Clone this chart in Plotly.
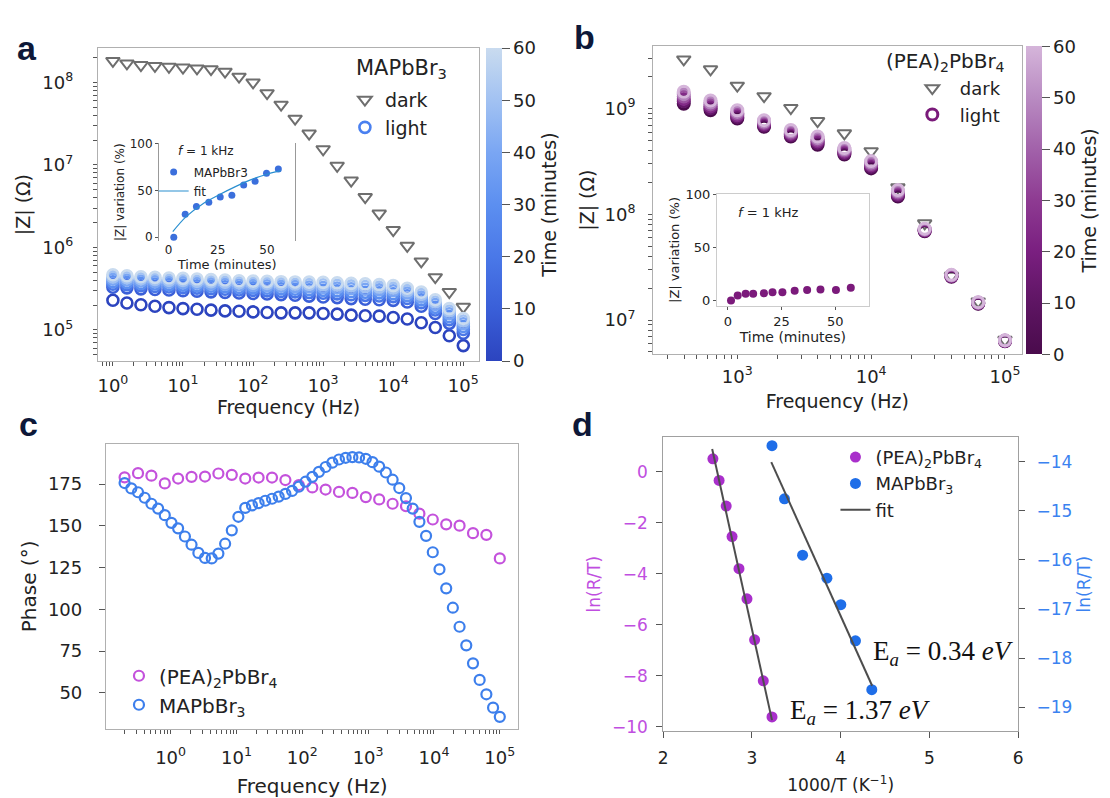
import plotly.graph_objects as go

W, H = 1110, 798


def fx(p):
    return p / W


def fy(p):
    return 1 - p / H


# ---------------- Panel a : MAPbBr3 |Z| vs frequency ----------------
freq_a = [1, 1.585, 2.512, 3.981, 6.31, 10, 15.85, 25.12, 39.81, 63.1, 100, 158.5, 251.2,
          398.1, 631, 1000, 1585, 2512, 3981, 6310, 10000, 15850, 25120, 39810, 63100, 100000]
logZ_dark_a = [8.26, 8.23, 8.21, 8.20, 8.19, 8.18, 8.17, 8.16, 8.13, 8.07, 8.00, 7.87, 7.73,
               7.56, 7.38, 7.19, 6.99, 6.81, 6.61, 6.41, 6.21, 6.02, 5.83, 5.64, 5.46, 5.28]
light_times_a = [0, 10, 20, 30, 40, 50, 60]
logZ_light_a_t0 = [5.36, 5.327, 5.306, 5.287, 5.271, 5.259, 5.251, 5.24, 5.231, 5.227, 5.219, 5.211, 5.207,
                   5.207, 5.207, 5.199, 5.192, 5.18, 5.172, 5.168, 5.151, 5.132, 5.088, 5.029, 4.93, 4.81]
logZ_light_a_t10 = [5.517, 5.51, 5.498, 5.49, 5.484, 5.476, 5.47, 5.462, 5.455, 5.448, 5.442, 5.436, 5.428,
                    5.42, 5.41, 5.40, 5.392, 5.38, 5.372, 5.366, 5.359, 5.339, 5.287, 5.199, 5.08, 4.96]
logZ_light_a_t20 = [5.555, 5.547, 5.535, 5.527, 5.52, 5.513, 5.507, 5.499, 5.493, 5.485, 5.48, 5.474, 5.467,
                    5.461, 5.453, 5.444, 5.437, 5.426, 5.419, 5.412, 5.404, 5.381, 5.33, 5.241, 5.125, 5.005]
logZ_light_a_t30 = [5.585, 5.576, 5.564, 5.556, 5.549, 5.543, 5.536, 5.529, 5.523, 5.515, 5.51, 5.505, 5.499,
                    5.493, 5.487, 5.48, 5.473, 5.463, 5.456, 5.449, 5.439, 5.414, 5.364, 5.274, 5.161, 5.041]
logZ_light_a_t40 = [5.616, 5.606, 5.594, 5.586, 5.578, 5.573, 5.566, 5.558, 5.553, 5.545, 5.54, 5.535, 5.53,
                    5.525, 5.521, 5.515, 5.508, 5.5, 5.493, 5.486, 5.475, 5.447, 5.398, 5.308, 5.196, 5.076]
logZ_light_a_t50 = [5.643, 5.632, 5.62, 5.612, 5.604, 5.6, 5.592, 5.585, 5.58, 5.572, 5.567, 5.563, 5.558,
                    5.554, 5.551, 5.547, 5.541, 5.534, 5.526, 5.519, 5.507, 5.477, 5.429, 5.338, 5.229, 5.109]
logZ_light_a_t60 = [5.669, 5.657, 5.645, 5.637, 5.629, 5.625, 5.617, 5.61, 5.605, 5.597, 5.592, 5.589, 5.585,
                    5.582, 5.58, 5.577, 5.571, 5.565, 5.558, 5.55, 5.537, 5.505, 5.458, 5.366, 5.259, 5.139]
logZ_light_a = [logZ_light_a_t0, logZ_light_a_t10, logZ_light_a_t20, logZ_light_a_t30,
                logZ_light_a_t40, logZ_light_a_t50, logZ_light_a_t60]

# inset a : |Z| variation at 1 kHz
inset_a_time = [2.7, 8.5, 14.2, 20.5, 26.3, 32.2, 38.2, 44.0, 49.8, 55.8]
inset_a_var = [0, 24.5, 32.9, 37.4, 43.0, 44.8, 55.6, 59.8, 68.2, 72.7]
inset_a_fit_time = [2.2, 9, 17, 25.5, 34, 42, 50.5, 57]
inset_a_fit_var = [6, 22, 35, 45, 54, 61.5, 67.5, 71]

# ---------------- Panel b : (PEA)2PbBr4 ----------------
freq_b = [398.1, 631, 1000, 1585, 2512, 3981, 6310, 10000, 15850, 25120, 39810, 63100, 100000]
logZ_dark_b = [9.465, 9.372, 9.217, 9.118, 9.006, 8.882, 8.767, 8.597, 8.256, 7.915, 7.419, 7.177, 6.814]
light_times_b = [0, 12, 24, 36, 48, 60]
logZ_light_b_t0 = [9.046, 8.984, 8.907, 8.829, 8.736, 8.659, 8.566, 8.435, 8.168, 7.84, 7.41, 7.155, 6.80]
logZ_light_b_t12 = [9.069, 9.003, 8.922, 8.841, 8.748, 8.674, 8.578, 8.449, 8.181, 7.845, 7.414, 7.158, 6.802]
logZ_light_b_t24 = [9.092, 9.021, 8.938, 8.854, 8.761, 8.69, 8.591, 8.463, 8.193, 7.85, 7.417, 7.161, 6.804]
logZ_light_b_t36 = [9.114, 9.04, 8.953, 8.866, 8.773, 8.705, 8.603, 8.476, 8.206, 7.855, 7.421, 7.164, 6.806]
logZ_light_b_t48 = [9.137, 9.058, 8.969, 8.879, 8.786, 8.721, 8.616, 8.49, 8.218, 7.86, 7.424, 7.167, 6.808]
logZ_light_b_t60 = [9.16, 9.077, 8.984, 8.891, 8.798, 8.736, 8.628, 8.504, 8.231, 7.865, 7.428, 7.17, 6.81]
logZ_light_b = [logZ_light_b_t0, logZ_light_b_t12, logZ_light_b_t24,
                logZ_light_b_t36, logZ_light_b_t48, logZ_light_b_t60]

inset_b_time = [1.5, 4.6, 8.3, 11.8, 16.8, 20.8, 25.4, 31.1, 36.9, 43.1, 50.3, 57.2]
inset_b_var = [0, 4.6, 6.2, 6.2, 6.8, 7.7, 7.7, 9.2, 9.8, 10.2, 9.8, 12.0]

# ---------------- Panel c : phase ----------------
freq_c_pea = [0.2, 0.32, 0.511, 0.816, 1.30, 2.08, 3.33, 5.32, 8.50, 13.6, 21.7, 34.7, 55.4, 88.5,
              142, 226, 361, 577, 922, 1472, 2355, 3758, 6012, 9594, 15350, 24490, 39170, 62520, 100000]
phase_pea = [179.0, 181.5, 180.0, 175.4, 178.3, 179.3, 179.5, 181.3, 180.5, 178.3, 178.9, 178.9, 177.4, 174.4,
             173.0, 171.7, 170.3, 169.7, 167.2, 165.8, 163.2, 161.7, 157.3, 153.8, 150.9, 150.1, 145.6, 144.6, 130.5]
freq_c_ma = [0.2, 0.253, 0.32, 0.404, 0.511, 0.646, 0.816, 1.03, 1.30, 1.65, 2.08, 2.64, 3.33, 4.21, 5.32,
             6.73, 8.50, 10.7, 13.6, 17.2, 21.7, 27.4, 34.7, 43.8, 55.4, 70.0, 88.5, 112, 142, 179, 226, 286,
             361, 456, 577, 729, 922, 1165, 1472, 1862, 2355, 2972, 3758, 4753, 6012, 7586, 9594, 12130,
             15350, 19360, 24490, 30970, 39170, 49430, 62520, 79070, 100000]
phase_ma = [175.6, 172.4, 170.1, 166.8, 163.2, 160.3, 156.4, 151.8, 148.5, 143.6, 138.7, 133.8, 130.8, 130.5,
            133.4, 139.3, 147.3, 155.4, 160.7, 162.2, 163.6, 165.0, 166.2, 167.5, 169.1, 170.9, 173.4, 176.4,
            179.3, 182.3, 185.2, 187.8, 189.7, 190.7, 191.1, 190.9, 190.1, 188.1, 185.4, 181.9, 177.6, 172.6,
            166.6, 160.3, 152.4, 144.0, 134.2, 124.0, 112.6, 101.0, 89.6, 78.5, 67.7, 57.8, 49.2, 41.2, 35.7]

# ---------------- Panel d : Arrhenius ----------------
invT_pea = [2.56, 2.63, 2.71, 2.776, 2.854, 2.944, 3.03, 3.128, 3.226]
lnRT_pea = [0.515, -0.335, -1.338, -2.535, -3.797, -4.981, -6.589, -8.198, -9.614]
invT_ma = [3.226, 3.367, 3.571, 3.845, 4.002, 4.167, 4.351]
lnRT_ma = [-13.672, -14.755, -15.905, -16.373, -16.914, -17.65, -18.646]
fit_pea_x = [2.552, 3.226]
fit_pea_y = [0.90, -9.74]
fit_ma_x = [3.218, 4.355]
fit_ma_y = [-14.007, -18.565]

# ---------------- styles ----------------
FONT = "DejaVu Sans"
TXT = "#222222"
GRAY = "#6e6e6e"
BLUES = [[0, "#2c44bf"], [0.1667, "#3a5fd8"], [0.333, "#4a78e8"], [0.5, "#5c8ff0"],
         [0.667, "#7aa6f3"], [0.833, "#a2c2f2"], [1, "#c9dbef"]]
PURPLES = [[0, "#4a0b4c"], [0.1667, "#5e1563"], [0.333, "#7a1f80"], [0.5, "#8e3b92"],
           [0.667, "#a262aa"], [0.833, "#b98bc2"], [1, "#d5b5da"]]
PINK_C = "#c452dc"
BLUE_C = "#3d7fec"
MAG_D = "#a92fcb"
BLUE_D = "#1f6ee8"
MAG_TXT = "#c04ee0"
BLUE_TXT = "#3b82f0"


def log_ticks(major_exps, lo, hi):
    """Major decade ticks with 10^n labels plus unlabeled minor ticks (2..9 x 10^n)."""
    vals, text = [], []
    for e in major_exps:
        vals.append(10 ** e)
        text.append("10<sup>%d</sup>" % e)
    for e in range(lo, hi + 1):
        for m in range(2, 10):
            vals.append(m * 10 ** e)
            text.append("")
    return dict(tickmode="array", tickvals=vals, ticktext=text)


def ax(**kw):
    base = dict(showline=True, mirror=True, linecolor="#b0b0b0", linewidth=1, ticks="outside",
                tickcolor="#555555", ticklen=6, tickwidth=1, showgrid=False, zeroline=False,
                tickfont=dict(size=18, color=TXT, family=FONT), title_font=dict(size=19, color=TXT, family=FONT))
    base.update(kw)
    return base


def major_overlay(base, anchor, rng, exps, side):
    # tick-only overlay axis that lengthens the decade ticks
    return dict(type="log", overlaying=base, anchor=anchor, side=side, range=rng, autorange=False,
                tickmode="array", tickvals=[10 ** e for e in exps], showticklabels=False,
                ticks="outside", ticklen=7, tickwidth=1, tickcolor="#555555",
                showline=False, showgrid=False, zeroline=False)


def cbar(x0, top, bottom):
    return dict(x=fx(x0), xanchor="left", y=fy(top), yanchor="top",
                len=(bottom - top) / H, lenmode="fraction", thickness=16,
                thicknessmode="pixels", xpad=0, ypad=0, outlinewidth=0,
                tickvals=[0, 10, 20, 30, 40, 50, 60], ticks="outside", ticklen=8,
                tickcolor="#555555", tickfont=dict(size=18, color=TXT, family=FONT),
                title=dict(text="Time (minutes)", side="right",
                           font=dict(size=19, color=TXT, family=FONT)))


fig = go.Figure()

# ---- panel a traces ----
fig.add_trace(go.Scatter(
    x=freq_a, y=[10 ** v for v in logZ_dark_a], mode="markers", name="dark",
    marker=dict(symbol="triangle-down-open", size=12, color=GRAY, line=dict(width=2)),
    xaxis="x", yaxis="y", legend="legend"))
for i, (t, series) in enumerate(zip(light_times_a, logZ_light_a)):
    fig.add_trace(go.Scatter(
        x=freq_a, y=[10 ** v for v in series], mode="markers", showlegend=False,
        marker=dict(symbol="circle-open", size=11, color=[t] * len(series), colorscale=BLUES,
                    cmin=0, cmax=60, line=dict(width=2.6), showscale=(i == 0),
                    colorbar=cbar(485, 41.7, 360)),
        xaxis="x", yaxis="y"))
fig.add_trace(go.Scatter(
    x=[None], y=[None], mode="markers", name="light",
    marker=dict(symbol="circle-open", size=11, color="#4a80f0", line=dict(width=2.6)),
    xaxis="x", yaxis="y", legend="legend"))

# inset a
fig.add_trace(go.Scatter(
    x=inset_a_time, y=inset_a_var, mode="markers", name="MAPbBr3",
    marker=dict(symbol="circle", size=7, color="#3b6fdc"),
    xaxis="x2", yaxis="y2", legend="legend2"))
fig.add_trace(go.Scatter(
    x=inset_a_fit_time, y=inset_a_fit_var, mode="lines", name="fit", line_shape="spline",
    line=dict(color="#2a8fd0", width=1.2), xaxis="x2", yaxis="y2", legend="legend2"))

# ---- panel b traces ----
fig.add_trace(go.Scatter(
    x=freq_b, y=[10 ** v for v in logZ_dark_b], mode="markers", name="dark",
    marker=dict(symbol="triangle-down-open", size=12, color=GRAY, line=dict(width=2)),
    xaxis="x3", yaxis="y3", legend="legend3"))
for i, (t, series) in enumerate(zip(light_times_b, logZ_light_b)):
    fig.add_trace(go.Scatter(
        x=freq_b, y=[10 ** v for v in series], mode="markers", showlegend=False,
        marker=dict(symbol="circle-open", size=11, color=[t] * len(series), colorscale=PURPLES,
                    cmin=0, cmax=60, line=dict(width=3), showscale=(i == 0),
                    colorbar=cbar(1030, 40, 353)),
        xaxis="x3", yaxis="y3"))
fig.add_trace(go.Scatter(
    x=[None], y=[None], mode="markers", name="light",
    marker=dict(symbol="circle-open", size=11, color="#7a1a7a", line=dict(width=3)),
    xaxis="x3", yaxis="y3", legend="legend3"))

# inset b
fig.add_trace(go.Scatter(
    x=inset_b_time, y=inset_b_var, mode="markers", showlegend=False,
    marker=dict(symbol="circle", size=8, color="#7b1a7b"), xaxis="x4", yaxis="y4"))

# ---- panel c traces ----
fig.add_trace(go.Scatter(
    x=freq_c_pea, y=phase_pea, mode="markers", name="(PEA)<sub>2</sub>PbBr<sub>4</sub>",
    marker=dict(symbol="circle-open", size=10, color=PINK_C, line=dict(width=2.2)),
    xaxis="x5", yaxis="y5", legend="legend4"))
fig.add_trace(go.Scatter(
    x=freq_c_ma, y=phase_ma, mode="markers", name="MAPbBr<sub>3</sub>",
    marker=dict(symbol="circle-open", size=10, color=BLUE_C, line=dict(width=2.2)),
    xaxis="x5", yaxis="y5", legend="legend4"))

# ---- panel d traces ----
fig.add_trace(go.Scatter(
    x=invT_pea, y=lnRT_pea, mode="markers", name="(PEA)<sub>2</sub>PbBr<sub>4</sub>",
    marker=dict(symbol="circle", size=11, color=MAG_D), xaxis="x6", yaxis="y6", legend="legend5"))
fig.add_trace(go.Scatter(
    x=invT_ma, y=lnRT_ma, mode="markers", name="MAPbBr<sub>3</sub>",
    marker=dict(symbol="circle", size=11, color=BLUE_D), xaxis="x6", yaxis="y7", legend="legend5"))
fig.add_trace(go.Scatter(
    x=fit_pea_x, y=fit_pea_y, mode="lines", name="fit",
    line=dict(color="#4d4d4d", width=2), xaxis="x6", yaxis="y6", legend="legend5"))
fig.add_trace(go.Scatter(
    x=fit_ma_x, y=fit_ma_y, mode="lines", showlegend=False,
    line=dict(color="#4d4d4d", width=2), xaxis="x6", yaxis="y7"))

# ---------------- axes ----------------
small = dict(color=TXT, family=FONT)
RX_A, RY_A = [-0.216, 5.228], [4.622, 8.417]
RX_B, RY_B = [2.371, 5.124], [6.68, 9.589]
RX_C = [-0.983, 5.28]
layout = dict(
    width=W, height=798, margin=dict(l=0, r=0, t=0, b=0),
    paper_bgcolor="white", plot_bgcolor="white",
    font=dict(family=FONT, color=TXT),
    # a
    xaxis=ax(type="log", domain=[fx(93.6), fx(478.6)], range=RX_A, anchor="y", ticklen=4,
             **log_ticks(range(0, 6), -1, 5),
             ticklabelstandoff=4, title=dict(text="Frequency (Hz)", standoff=4)),
    yaxis=ax(type="log", domain=[fy(360), fy(41.7)], range=RY_A, anchor="x", ticklen=4,
             **log_ticks(range(5, 9), 4, 8),
             ticklabelstandoff=16, title=dict(text="|Z| (Ω)", standoff=6)),
    # inset a
    xaxis2=ax(domain=[fx(155.4), fx(292.9)], range=[-4.8, 64.4], anchor="y2", showline=False,
              mirror=False, tickvals=[0, 25, 50], ticks="", tickfont=dict(size=12, **small),
              title=dict(text="Time (minutes)", font=dict(size=13, **small), standoff=0)),
    yaxis2=ax(domain=[fy(238.3), fy(138.3)], range=[-4.5, 100.5], anchor="x2", linecolor="#999999",
              tickvals=[0, 50, 100], ticklen=3, tickfont=dict(size=12, **small),
              title=dict(text="|Z| variation (%)", font=dict(size=12, **small), standoff=2)),
    # b
    xaxis3=ax(type="log", domain=[fx(654), fx(1025.8)], range=RX_B, anchor="y3", ticklen=4,
              **log_ticks(range(3, 6), 2, 4), ticklabelstandoff=2,
              title=dict(text="Frequency (Hz)", standoff=9)),
    yaxis3=ax(type="log", domain=[fy(352.7), fy(40)], range=RY_B, anchor="x3", ticklen=4,
              **log_ticks(range(7, 10), 6, 9),
              ticklabelstandoff=9, title=dict(text="|Z| (Ω)", standoff=4)),
    # inset b
    xaxis4=ax(domain=[fx(718.3), fx(871.7)], range=[-5.1, 65.6], anchor="y4", linecolor="#cccccc",
              tickvals=[0, 25, 50], ticklen=3, tickfont=dict(size=13, **small),
              title=dict(text="Time (minutes)", font=dict(size=14, **small), standoff=2)),
    yaxis4=ax(domain=[fy(304), fy(190)], range=[-5.3, 100.5], anchor="x4", linecolor="#cccccc",
              tickvals=[0, 50, 100], ticklen=3, tickfont=dict(size=13, **small),
              title=dict(text="|Z| variation (%)", font=dict(size=13, **small), standoff=2)),
    # c
    xaxis5=ax(type="log", domain=[fx(101.8), fx(517.9)], range=RX_C, anchor="y5", ticklen=4,
              **log_ticks(range(0, 6), -1, 5),
              ticklabelstandoff=8, title=dict(text="Frequency (Hz)", font=dict(size=20), standoff=15)),
    yaxis5=ax(domain=[fy(734), fy(444)], range=[28.4, 199.1], anchor="x5", ticklabelstandoff=13,
              tickvals=[50, 75, 100, 125, 150, 175], title=dict(text="Phase (°)", font=dict(size=20), standoff=5)),
    # d
    xaxis6=ax(domain=[fx(664.2), fx(1022.3)], range=[2, 6], anchor="y6", linecolor="#a0a0a0",
              tickvals=[2, 3, 4, 5, 6], tickfont=dict(size=17, **small), ticklabelstandoff=6,
              title=dict(text="1000/T (K<sup>−1</sup>)", font=dict(size=17), standoff=11)),
    yaxis6=ax(domain=[fy(736), fy(437.3)], range=[-10.167, 1.364], anchor="x6", linecolor="#a0a0a0",
              mirror=False, tickvals=[0, -2, -4, -6, -8, -10], ticklabelstandoff=5,
              tickfont=dict(size=17, color=MAG_TXT, family=FONT),
              title=dict(text="ln(R/T)", font=dict(size=17, color=MAG_TXT), standoff=6)),
    yaxis7=ax(domain=[fy(736), fy(437.3)], range=[-19.488, -13.499], anchor="x6", overlaying="y6",
              side="right", linecolor="#a0a0a0", mirror=False, tickvals=[-14, -15, -16, -17, -18, -19],
              tickfont=dict(size=17, color=BLUE_TXT, family=FONT), ticklabelstandoff=8,
              title=dict(text="ln(R/T)", font=dict(size=17, color=BLUE_TXT), standoff=6)),
    # longer decade ticks
    xaxis7=major_overlay("x", "y", RX_A, range(0, 6), "bottom"),
    yaxis8=major_overlay("y", "x", RY_A, range(5, 9), "left"),
    xaxis8=major_overlay("x3", "y3", RX_B, range(3, 6), "bottom"),
    yaxis9=major_overlay("y3", "x3", RY_B, range(7, 10), "left"),
    xaxis9=major_overlay("x5", "y5", RX_C, range(0, 6), "bottom"),
    # legends
    legend=dict(x=fx(343), y=fy(75), xanchor="left", yanchor="top", bgcolor="rgba(0,0,0,0)",
                font=dict(size=19, color=TXT, family=FONT)),
    legend2=dict(x=fx(150), y=fy(153), xanchor="left", yanchor="top", bgcolor="rgba(0,0,0,0)",
                 font=dict(size=12, color=TXT, family=FONT)),
    legend3=dict(x=fx(908), y=fy(64), xanchor="left", yanchor="top", bgcolor="rgba(0,0,0,0)",
                 itemwidth=45, font=dict(size=18, color=TXT, family=FONT)),
    legend4=dict(x=fx(115), y=fy(660), xanchor="left", yanchor="top", bgcolor="rgba(0,0,0,0)",
                 font=dict(size=20, color=TXT, family=FONT)),
    legend5=dict(x=fx(838), y=fy(439), xanchor="left", yanchor="top", bgcolor="rgba(0,0,0,0)",
                 font=dict(size=18, color=TXT, family=FONT)),
)
fig.update_layout(**layout)

# ---------------- annotations ----------------
annots = [
    dict(text="<b>a</b>", x=fx(22), y=fy(42)),
    dict(text="<b>b</b>", x=fx(585), y=fy(30)),
    dict(text="<b>c</b>", x=fx(24), y=fy(424)),
    dict(text="<b>d</b>", x=fx(583), y=fy(424)),
]
for a in annots:
    fig.add_annotation(xref="paper", yref="paper", showarrow=False, xanchor="center", yanchor="middle",
                       font=dict(size=34, color="#0d1838", family="Liberation Sans"), **a)

fig.add_annotation(xref="paper", yref="paper", showarrow=False, x=fx(400), y=fy(63),
                   xanchor="center", yanchor="middle", text="MAPbBr<sub>3</sub>",
                   font=dict(size=21, color=TXT, family=FONT))
fig.add_annotation(xref="paper", yref="paper", showarrow=False, x=fx(173), y=fy(146),
                   xanchor="left", yanchor="middle", text="<i>f</i> = 1 kHz",
                   font=dict(size=12, color=TXT, family=FONT))
fig.add_annotation(xref="paper", yref="paper", showarrow=False, x=fx(949), y=fy(56),
                   xanchor="center", yanchor="middle", text="(PEA)<sub>2</sub>PbBr<sub>4</sub>",
                   font=dict(size=20, color=TXT, family=FONT))
fig.add_annotation(xref="paper", yref="paper", showarrow=False, x=fx(738), y=fy(209),
                   xanchor="left", yanchor="middle", text="<i>f</i> = 1 kHz",
                   font=dict(size=13, color=TXT, family=FONT))
fig.add_annotation(xref="paper", yref="paper", showarrow=False, x=fx(874), y=fy(657),
                   xanchor="left", yanchor="middle", text="E<sub><i>a</i></sub> = 0.34 <i>eV</i>",
                   font=dict(size=27, color="#111111", family="Liberation Serif"))
fig.add_annotation(xref="paper", yref="paper", showarrow=False, x=fx(790), y=fy(717),
                   xanchor="left", yanchor="middle", text="E<sub><i>a</i></sub> = 1.37 <i>eV</i>",
                   font=dict(size=27, color="#111111", family="Liberation Serif"))

fig.write_html("out.html")
